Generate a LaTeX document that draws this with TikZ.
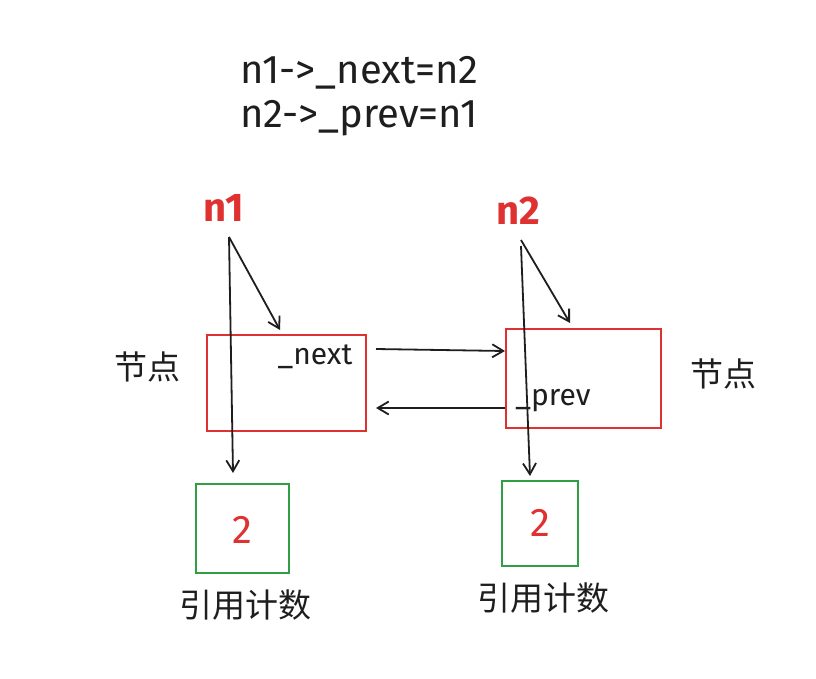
\documentclass[tikz,border=0pt]{standalone}
\usepackage{fontspec}
\setmainfont{Fira Sans}
\newfontfamily\cjk{Noto Sans CJK SC}
\usetikzlibrary{arrows.meta}
\definecolor{exred}{HTML}{E03131}
\definecolor{exgreen}{HTML}{2F9E44}
\definecolor{exblack}{HTML}{1E1E1E}
\begin{document}
\begin{tikzpicture}[x=1pt,y=-1pt,
  redbox/.style={draw=exred,line width=2pt},
  greenbox/.style={draw=exgreen,line width=2pt},
  arr/.style={draw=exblack,line width=1.8pt,-{Straight Barb[length=11pt,width=13pt,line width=1.8pt]}},
  lbl/.style={text=exblack,inner sep=0pt},
  ptr/.style={text=exred,font=\fontsize{40}{40}\selectfont\bfseries,inner sep=0pt},
  cnt/.style={text=exred,font=\fontsize{40}{40}\selectfont,inner sep=0pt},
  cjklbl/.style={text=exblack,font=\cjk\fontsize{33}{33}\selectfont,inner sep=0pt}]
\useasboundingbox (0,0) rectangle (816,678);
\fill[white] (0,0) rectangle (816,678);

% top text
\node[lbl,font=\fontsize{40}{40}\selectfont,anchor=west] (t1) at (240,73) {n1->\_next=n2};
\node[lbl,font=\fontsize{40}{40}\selectfont,anchor=west] (t2) at (240,118) {n2->\_prev=n1};

% node boxes
\node[redbox,minimum width=159pt,minimum height=96pt,inner sep=0pt] (b1) at (286.5,383) {};
\node[redbox,minimum width=155pt,minimum height=99pt,inner sep=0pt] (b2) at (583.5,378.5) {};

% counts
\node[greenbox,minimum width=93pt,minimum height=89pt,inner sep=0pt] (c1) at (242.5,528.5) {};
\node[greenbox,minimum width=76pt,minimum height=85pt,inner sep=0pt] (c2) at (540,523.5) {};
\node[cnt] (v1) at (242,530) {2};
\node[cnt] (v2) at (540,523) {2};

% labels
\node[ptr] (n1) at (224,208) {n1};
\node[ptr] (n2) at (518,211) {n2};
\node[lbl,font=\fontsize{30}{30}\selectfont] (nx) at (315,357) {\_next};
\node[lbl,font=\fontsize{30}{30}\selectfont] (pv) at (553,401) {\_prev};
\node[cjklbl] (j1) at (147,367) {节点};
\node[cjklbl] (j2) at (723,374) {节点};
\node[cjklbl] (r1) at (245,605) {引用计数};
\node[cjklbl] (r2) at (543,598) {引用计数};

% connectors
\coordinate (s1) at (229,237);
\coordinate (s2) at (521,240);
\coordinate (s2b) at (521,246);
\coordinate (e1) at (280,330);
\coordinate (e2) at (233,473);
\coordinate (e3) at (570,323);
\coordinate (e4) at (530,476);
\draw[arr] (s1) -- (e1);
\draw[arr] (s1) -- (e2);
\draw[arr] (s2) -- (e3);
\draw[arr] (s2b) -- (e4);
\coordinate (a1) at (376,349);
\coordinate (a2) at (376,408);
\draw[arr] (a1) -- (b2.west |- 0,351);
\draw[arr] (b2.west |- 0,408) -- (a2);
\end{tikzpicture}
\end{document}
